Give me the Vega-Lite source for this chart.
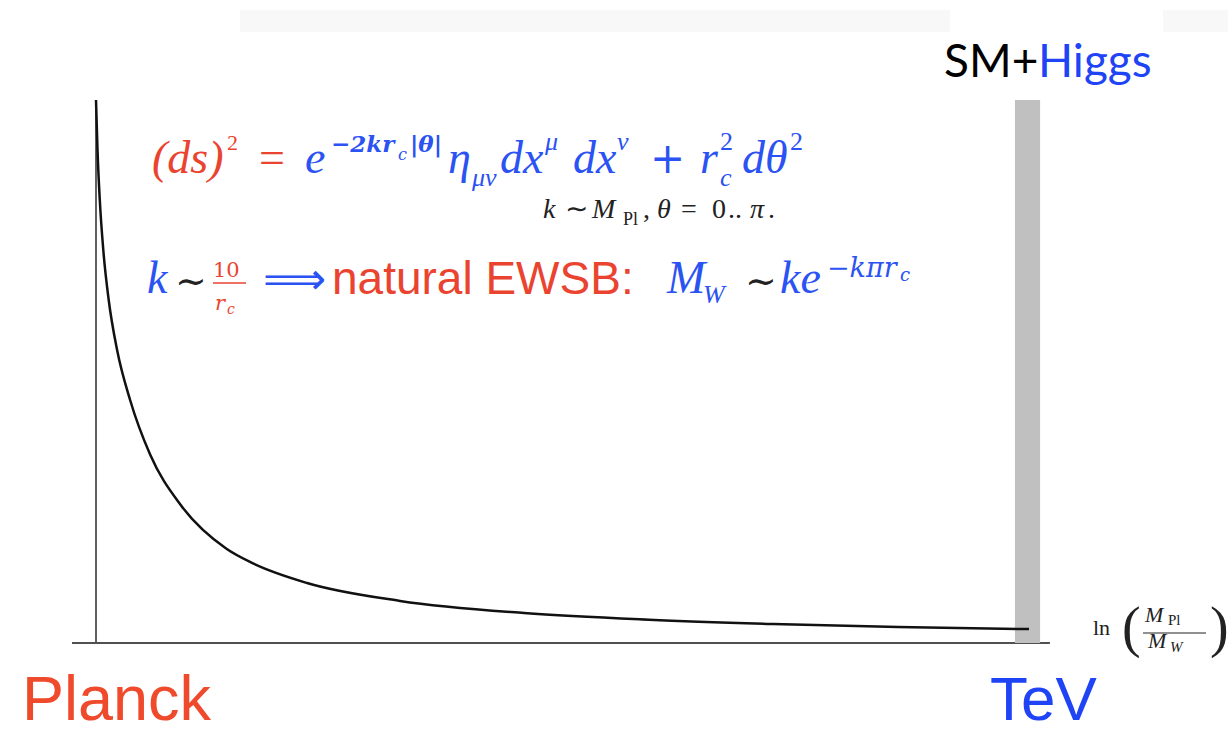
{
 "$schema": "https://vega.github.io/schema/vega-lite/v6.json",
 "width": 1228, "height": 732,
 "autosize": {"type": "none"},
 "padding": 0,
 "background": "white",
 "config": {"view": {"stroke": null}},
 "encoding": {
  "x": {"field": "x", "type": "quantitative", "scale": {"domain": [-3.8162, 45], "nice": false, "zero": false}, "axis": null},
  "y": {"field": "y", "type": "quantitative", "scale": {"domain": [-0.1639, 1.1842], "nice": false, "zero": false}, "axis": null}
 },
 "layer": [
  {"data": {"values": [{"x": 5.724, "x2": 33.95, "y": 1.1657, "y2": 1.1252}, {"x": 42.42, "x2": 45, "y": 1.1657, "y2": 1.1252}]},
   "mark": {"type": "rect", "color": "#f8f8f8"},
   "encoding": {"x2": {"field": "x2"}, "y2": {"field": "y2"}}},
  {"data": {"values": [{"x": -0.954, "x2": 37.92, "y": 0}]},
   "mark": {"type": "rule", "color": "#505050", "strokeWidth": 1.8},
   "encoding": {"x2": {"field": "x2"}}},
  {"data": {"values": [{"x": 0, "y": 0, "y2": 1.0}]},
   "mark": {"type": "rule", "color": "#505050", "strokeWidth": 1.8},
   "encoding": {"y2": {"field": "y2"}}},
  {"data": {"values": [{"x": 36.53, "x2": 37.53, "y": 0, "y2": 1.0}]},
   "mark": {"type": "rect", "color": "#c0c0c0"},
   "encoding": {"x2": {"field": "x2"}, "y2": {"field": "y2"}}},
  {"data": {"values": [
    {"x": 0, "y": 1.0}, {"x": 0.0596, "y": 0.9079}, {"x": 0.151, "y": 0.8158}, {"x": 0.29, "y": 0.7238},
    {"x": 0.505, "y": 0.6317}, {"x": 0.839, "y": 0.5396}, {"x": 1.356, "y": 0.4475}, {"x": 2.151, "y": 0.3471},
    {"x": 3.383, "y": 0.2532}, {"x": 5.172, "y": 0.174}, {"x": 6.241, "y": 0.1466}, {"x": 8.388, "y": 0.1105},
    {"x": 12.085, "y": 0.0775}, {"x": 17.014, "y": 0.0552}, {"x": 21.983, "y": 0.0429}, {"x": 26.912, "y": 0.0351},
    {"x": 31.881, "y": 0.0297}, {"x": 37.089, "y": 0.0256}]},
   "mark": {"type": "line", "color": "#111111", "strokeWidth": 2.5, "interpolate": "monotone"}},
  {"data": {"values": [{"x": 4.651, "x2": 5.963, "y": 0.663}]},
   "mark": {"type": "rule", "color": "#ea4430", "strokeWidth": 1.5},
   "encoding": {"x2": {"field": "x2"}}},
  {"data": {"values": [{"x": 41.62, "x2": 44.125, "y": 0.0184}]},
   "mark": {"type": "rule", "color": "#222222", "strokeWidth": 1.2},
   "encoding": {"x2": {"field": "x2"}}},

  {"data": {"values": [{"x": 2.226, "y": 0.8656, "t": "(ds)"}]},
   "mark": {"type": "text", "font": "Liberation Serif", "fontStyle": "italic", "fontSize": 46, "color": "#ea4430", "align": "left", "baseline": "alphabetic"},
   "encoding": {"text": {"field": "t"}}},
  {"data": {"values": [{"x": 6.48, "y": 0.8656, "t": "="}]},
   "mark": {"type": "text", "font": "Liberation Serif", "fontSize": 46, "color": "#ea4430", "align": "left", "baseline": "alphabetic"},
   "encoding": {"text": {"field": "t"}}},
  {"data": {"values": [{"x": 5.208, "y": 0.9079, "t": "2"}]},
   "mark": {"type": "text", "font": "Liberation Serif", "fontSize": 22, "color": "#ea4430", "align": "left", "baseline": "alphabetic"},
   "encoding": {"text": {"field": "t"}}},
  {"data": {"values": [
    {"x": 8.308, "y": 0.8656, "t": "e"}, {"x": 13.993, "y": 0.8656, "t": "η"}, {"x": 16.06, "y": 0.8656, "t": "dx"},
    {"x": 18.962, "y": 0.8656, "t": "dx"}, {"x": 24.01, "y": 0.8656, "t": "r"}, {"x": 25.68, "y": 0.8656, "t": "dθ"},
    {"x": 2.027, "y": 0.6446, "t": "k"}, {"x": 22.699, "y": 0.6446, "t": "M"}, {"x": 27.191, "y": 0.6446, "t": "ke"}]},
   "mark": {"type": "text", "font": "Liberation Serif", "fontStyle": "italic", "fontSize": 46, "color": "#2b52f2", "align": "left", "baseline": "alphabetic"},
   "encoding": {"text": {"field": "t"}}},
  {"data": {"values": [{"x": 22.023, "y": 0.8656, "t": "+"}]},
   "mark": {"type": "text", "font": "DejaVu Serif", "fontSize": 42, "color": "#2b52f2", "align": "left", "baseline": "alphabetic"},
   "encoding": {"text": {"field": "t"}}},
  {"data": {"values": [{"x": 9.342, "y": 0.9042, "t": "−2kr"}, {"x": 12.482, "y": 0.9042, "t": "|θ|"}]},
   "mark": {"type": "text", "font": "DejaVu Serif", "fontStyle": "italic", "fontWeight": "bold", "fontSize": 23, "color": "#2b52f2", "align": "left", "baseline": "alphabetic"},
   "encoding": {"text": {"field": "t"}}},
  {"data": {"values": [{"x": 29.059, "y": 0.674, "t": "−kπr"}]},
   "mark": {"type": "text", "font": "DejaVu Serif", "fontStyle": "italic", "fontSize": 27, "color": "#2b52f2", "align": "left", "baseline": "alphabetic"},
   "encoding": {"text": {"field": "t"}}},
  {"data": {"values": [{"x": 12.005, "y": 0.8895, "t": "c"}]},
   "mark": {"type": "text", "font": "DejaVu Serif", "fontStyle": "italic", "fontSize": 16, "color": "#2b52f2", "align": "left", "baseline": "alphabetic"},
   "encoding": {"text": {"field": "t"}}},
  {"data": {"values": [{"x": 31.961, "y": 0.6667, "t": "c"}]},
   "mark": {"type": "text", "font": "DejaVu Serif", "fontStyle": "italic", "fontSize": 18, "color": "#2b52f2", "align": "left", "baseline": "alphabetic"},
   "encoding": {"text": {"field": "t"}}},
  {"data": {"values": [
    {"x": 17.849, "y": 0.9079, "t": "μ"}, {"x": 20.711, "y": 0.9079, "t": "ν"}, {"x": 14.947, "y": 0.8416, "t": "μν"},
    {"x": 24.805, "y": 0.8416, "t": "c"}, {"x": 24.129, "y": 0.6262, "t": "W"}]},
   "mark": {"type": "text", "font": "Liberation Serif", "fontStyle": "italic", "fontSize": 26, "color": "#2b52f2", "align": "left", "baseline": "alphabetic"},
   "encoding": {"text": {"field": "t"}}},
  {"data": {"values": [{"x": 24.805, "y": 0.9079, "t": "2"}, {"x": 27.588, "y": 0.9079, "t": "2"}]},
   "mark": {"type": "text", "font": "Liberation Serif", "fontSize": 26, "color": "#2b52f2", "align": "left", "baseline": "alphabetic"},
   "encoding": {"text": {"field": "t"}}},
  {"data": {"values": [{"x": 3.14, "y": 0.6427, "t": "∼"}, {"x": 25.799, "y": 0.6427, "t": "∼"}]},
   "mark": {"type": "text", "font": "DejaVu Serif", "fontSize": 38, "color": "#222222", "align": "left", "baseline": "alphabetic"},
   "encoding": {"text": {"field": "t"}}},
  {"data": {"values": [{"x": 6.639, "y": 0.6427, "t": "⟹"}]},
   "mark": {"type": "text", "font": "DejaVu Sans", "fontSize": 44, "color": "#2b52f2", "align": "left", "baseline": "alphabetic"},
   "encoding": {"text": {"field": "t"}}},
  {"data": {"values": [{"x": 9.381, "y": 0.6427, "t": "natural EWSB:"}]},
   "mark": {"type": "text", "font": "Liberation Sans", "fontSize": 46, "color": "#ea4430", "align": "left", "baseline": "alphabetic"},
   "encoding": {"text": {"field": "t"}}},
  {"data": {"values": [{"x": 4.651, "y": 0.674, "t": "10"}]},
   "mark": {"type": "text", "font": "DejaVu Serif", "fontSize": 21, "color": "#ea4430", "align": "left", "baseline": "alphabetic"},
   "encoding": {"text": {"field": "t"}}},
  {"data": {"values": [{"x": 4.73, "y": 0.6133, "t": "r"}]},
   "mark": {"type": "text", "font": "DejaVu Serif", "fontStyle": "italic", "fontSize": 21, "color": "#ea4430", "align": "left", "baseline": "alphabetic"},
   "encoding": {"text": {"field": "t"}}},
  {"data": {"values": [{"x": 5.208, "y": 0.6059, "t": "c"}]},
   "mark": {"type": "text", "font": "DejaVu Serif", "fontStyle": "italic", "fontSize": 14, "color": "#ea4430", "align": "left", "baseline": "alphabetic"},
   "encoding": {"text": {"field": "t"}}},
  {"data": {"values": [
    {"x": 17.769, "y": 0.7827, "t": "k"}, {"x": 19.717, "y": 0.7827, "t": "M"}, {"x": 22.301, "y": 0.7827, "t": "θ"},
    {"x": 26.0, "y": 0.7827, "t": "π"}]},
   "mark": {"type": "text", "font": "Liberation Serif", "fontStyle": "italic", "fontSize": 28, "color": "#222222", "align": "left", "baseline": "alphabetic"},
   "encoding": {"text": {"field": "t"}}},
  {"data": {"values": [
    {"x": 18.644, "y": 0.7827, "t": "∼"}, {"x": 21.745, "y": 0.7827, "t": ","}, {"x": 23.255, "y": 0.7827, "t": "="},
    {"x": 24.487, "y": 0.7827, "t": "0"}, {"x": 25.123, "y": 0.7827, "t": ".."}, {"x": 26.714, "y": 0.7827, "t": "."}]},
   "mark": {"type": "text", "font": "Liberation Serif", "fontSize": 28, "color": "#222222", "align": "left", "baseline": "alphabetic"},
   "encoding": {"text": {"field": "t"}}},
  {"data": {"values": [{"x": 20.95, "y": 0.7698, "t": "Pl"}]},
   "mark": {"type": "text", "font": "Liberation Serif", "fontSize": 18, "color": "#222222", "align": "left", "baseline": "alphabetic"},
   "encoding": {"text": {"field": "t"}}},
  {"data": {"values": [{"x": -2.942, "y": -0.1418, "t": "Planck"}]},
   "mark": {"type": "text", "font": "Liberation Sans", "fontSize": 63, "color": "#f04a2c", "align": "left", "baseline": "alphabetic"},
   "encoding": {"text": {"field": "t"}}},
  {"data": {"values": [{"x": 35.538, "y": -0.1418, "t": "TeV"}]},
   "mark": {"type": "text", "font": "Liberation Sans", "fontSize": 62, "color": "#1f44f5", "align": "left", "baseline": "alphabetic"},
   "encoding": {"text": {"field": "t"}}},
  {"data": {"values": [{"x": 33.71, "y": 1.0424, "t": "SM+"}]},
   "mark": {"type": "text", "font": "Lato", "fontSize": 46, "color": "#000000", "align": "left", "baseline": "alphabetic"},
   "encoding": {"text": {"field": "t"}}},
  {"data": {"values": [{"x": 37.45, "y": 1.0424, "t": "Higgs"}]},
   "mark": {"type": "text", "font": "Lato", "fontSize": 46, "color": "#1f44f5", "align": "left", "baseline": "alphabetic"},
   "encoding": {"text": {"field": "t"}}},
  {"data": {"values": [{"x": 39.633, "y": 0.0147, "t": "ln"}]},
   "mark": {"type": "text", "font": "Liberation Serif", "fontSize": 22, "color": "#222222", "align": "left", "baseline": "alphabetic"},
   "encoding": {"text": {"field": "t"}}},
  {"data": {"values": [{"x": 40.785, "y": -0.0055, "t": "("}, {"x": 44.284, "y": -0.0055, "t": ")"}]},
   "mark": {"type": "text", "font": "Liberation Serif", "fontSize": 56, "color": "#222222", "align": "left", "baseline": "alphabetic"},
   "encoding": {"text": {"field": "t"}}},
  {"data": {"values": [{"x": 41.7, "y": 0.0387, "t": "M"}, {"x": 41.819, "y": -0.0092, "t": "M"}]},
   "mark": {"type": "text", "font": "Liberation Serif", "fontStyle": "italic", "fontSize": 22, "color": "#222222", "align": "left", "baseline": "alphabetic"},
   "encoding": {"text": {"field": "t"}}},
  {"data": {"values": [{"x": 42.614, "y": 0.0331, "t": "Pl"}]},
   "mark": {"type": "text", "font": "Liberation Serif", "fontSize": 15, "color": "#222222", "align": "left", "baseline": "alphabetic"},
   "encoding": {"text": {"field": "t"}}},
  {"data": {"values": [{"x": 42.694, "y": -0.0166, "t": "W"}]},
   "mark": {"type": "text", "font": "Liberation Serif", "fontStyle": "italic", "fontSize": 15, "color": "#222222", "align": "left", "baseline": "alphabetic"},
   "encoding": {"text": {"field": "t"}}}
 ]
}
